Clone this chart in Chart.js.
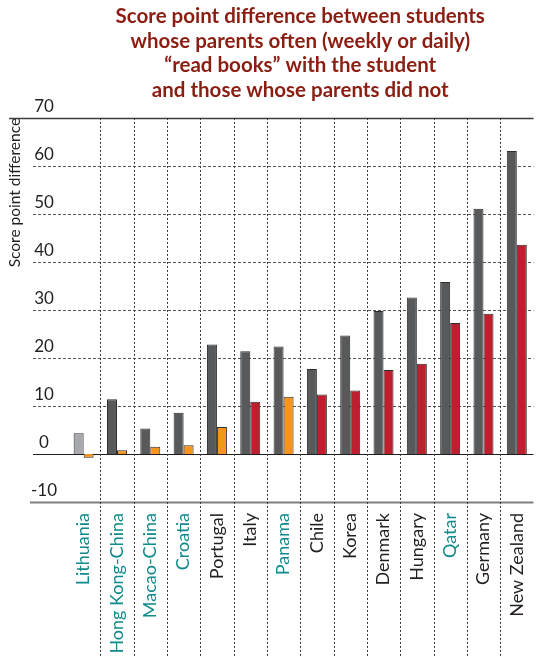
<!DOCTYPE html>
<html>
<head>
<meta charset="utf-8">
<script src="https://cdn.jsdelivr.net/npm/chart.js@4/dist/chart.umd.min.js"></script>
<style>
  body { margin: 0; background: #fff; }
  #wrap { width: 550px; height: 657px; position: relative; }
</style>
</head>
<body>
<div id="wrap"><canvas id="canvas"></canvas></div>
<script>
'use strict';

const countries = ['Lithuania', 'Hong Kong-China', 'Macao-China', 'Croatia', 'Portugal', 'Italy', 'Panama', 'Chile', 'Korea', 'Denmark', 'Hungary', 'Qatar', 'Germany', 'New Zealand'];
const partnerCountry = [true, true, true, true, false, false, true, false, false, false, false, true, false, false];

// dark bars: raw difference, second bars: after accounting for background
const diffBefore = [4.3, 11.4, 5.3, 8.6, 22.8, 21.4, 22.4, 17.7, 24.7, 29.8, 32.6, 35.8, 51.1, 63.1];
const diffAfter = [-0.8, 0.8, 1.5, 1.8, 5.6, 10.9, 11.9, 12.4, 13.2, 17.5, 18.8, 27.3, 29.2, 43.6];
const significantBefore = [false, true, true, true, true, true, true, true, true, true, true, true, true, true];
const significantAfter = [false, false, false, false, false, true, false, true, true, true, true, true, true, true];

const yTickValues = [70, 60, 50, 40, 30, 20, 10, 0, -10];

const titleLines = ['Score point difference between students', 'whose parents often (weekly or daily)', '\u201Cread books\u201D with the student', 'and those whose parents did not'];

const FONT = 'Lato, "Open Sans", sans-serif';

// horizontal lines stretched past the plot area, vertical dashes between countries, tick numbers
const gridPlugin = {
  id: 'gridPlugin',
  beforeDatasetsDraw(chart) {
    const ctx = chart.ctx;
    const area = chart.chartArea;
    const y = chart.scales.y;
    const x = chart.scales.x;
    ctx.save();

    yTickValues.forEach(function(v) {
      const py = Math.round(y.getPixelForValue(v)) + 0.5;
      ctx.beginPath();
      if (v === 70) {
        ctx.setLineDash([]);
        ctx.strokeStyle = '#3c3c3c';
        ctx.lineWidth = 1.5;
        ctx.moveTo(9, py);
      } else if (v === -10) {
        ctx.setLineDash([]);
        ctx.strokeStyle = '#808080';
        ctx.lineWidth = 2;
        ctx.moveTo(30, py);
      } else if (v === 0) {
        ctx.setLineDash([]);
        ctx.strokeStyle = '#231f20';
        ctx.lineWidth = 1.2;
        ctx.moveTo(33, py);
      } else {
        ctx.setLineDash([3, 2]);
        ctx.strokeStyle = '#555';
        ctx.lineWidth = 1;
        ctx.moveTo(33, py);
      }
      ctx.lineTo(area.right, py);
      ctx.stroke();
    });

    ctx.setLineDash([2, 2]);
    ctx.strokeStyle = '#333';
    ctx.lineWidth = 1;
    for (let i = 1; i < countries.length; i++) {
      const px = Math.round((x.getPixelForValue(i - 1) + x.getPixelForValue(i)) / 2) + 0.5;
      ctx.beginPath();
      ctx.moveTo(px, area.top);
      ctx.lineTo(px, chart.height);
      ctx.stroke();
    }

    ctx.setLineDash([]);
    ctx.fillStyle = '#231f20';
    ctx.font = '17px ' + FONT;
    ctx.textAlign = 'center';
    ctx.textBaseline = 'bottom';
    yTickValues.forEach(function(v) {
      ctx.fillText(String(v), 44, y.getPixelForValue(v) - 3);
    });
    ctx.restore();
  }
};

const ctx = document.getElementById('canvas').getContext('2d');
new Chart(ctx, {
  type: 'bar',
  data: {
    labels: countries,
    datasets: [{
      label: 'Before accounting for socio-economic background',
      data: diffBefore,
      backgroundColor: (c) => significantBefore[c.dataIndex] ? '#58595b' : '#a7a9ac',
      borderColor: '#2d2d2d',
      borderWidth: 1
    },
    {
      label: 'After accounting for socio-economic background',
      data: diffAfter,
      backgroundColor: (c) => significantAfter[c.dataIndex] ? '#be1e2d' : '#f7941d',
      borderColor: '#2d2d2d',
      borderWidth: 1
    }]
  },
  options: {
    responsive: true,
    maintainAspectRatio: false,
    animation: false,
    categoryPercentage: 0.6,
    barPercentage: 1.0,
    layout: { padding: { left: 0, right: 3, top: 0, bottom: 0 } },
    plugins: {
      legend: { display: false },
      tooltip: { enabled: false },
      title: {
        display: true,
        fullSize: false,
        text: titleLines,
        color: '#8b1e12',
        font: { family: FONT, size: 20.5, weight: 'bold', lineHeight: 1.2 },
        padding: { top: 4, bottom: 15.5 }
      }
    },
    scales: {
      x: {
        grid: { display: false, drawTicks: false },
        border: { display: false },
        afterFit: (scale) => { scale.height = 155; },
        ticks: {
          autoSkip: false,
          minRotation: 90,
          maxRotation: 90,
          padding: 11,
          font: { family: FONT, size: 18 },
          color: (c) => partnerCountry[c.index] ? '#108a8c' : '#231f20'
        }
      },
      y: {
        min: -10,
        max: 70,
        grid: { display: false, drawTicks: false },
        border: { display: false },
        ticks: { display: false, stepSize: 10 },
        title: {
          display: true,
          text: 'Score point difference',
          align: 'end',
          color: '#231f20',
          font: { family: FONT, size: 15.5, lineHeight: 1.2 },
          padding: { top: 6, bottom: 42.4 }
        }
      }
    }
  },
  plugins: [gridPlugin]
});
</script>
</body>
</html>
